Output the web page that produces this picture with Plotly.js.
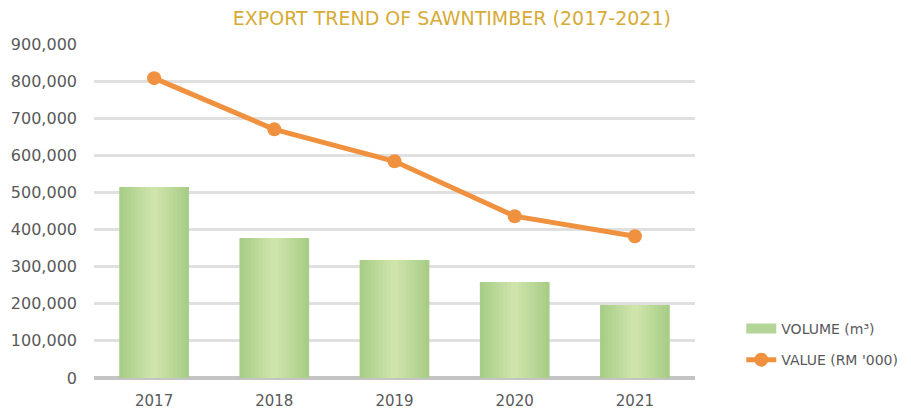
<!DOCTYPE html>
<html>
<head>
<meta charset="utf-8">
<script src="https://cdn.plot.ly/plotly-3.0.1.min.js"></script>
<style>html,body{margin:0;padding:0;background:#fff}#chart{width:911px;height:412px}</style>
</head>
<body>
<div id="chart"></div>
<script>
const years = ['2017', '2018', '2019', '2020', '2021'];
const volume = [515000, 377000, 318000, 259000, 197000];
const value = [808000, 670000, 584000, 436000, 382000];
const yTickVals = [0, 100000, 200000, 300000, 400000, 500000, 600000, 700000, 800000, 900000];
const yTickText = ['0', '100,000', '200,000', '300,000', '400,000', '500,000', '600,000', '700,000', '800,000', '900,000'];
const seriesNames = ['VOLUME (m³)', "VALUE (RM '000)"];

const FONT = 'DejaVu Sans, sans-serif';
const barWidth = 0.58;
const dark = [168, 205, 134];
const light = [206, 228, 170];
const steps = 9;
const traces = [];
for (let k = 0; k < steps; k++) {
  const t = k / (steps - 1);
  const c = dark.map((d, i) => Math.round(d + (light[i] - d) * t));
  const w = barWidth * (1 - k / steps);
  traces.push({
    type: 'bar', x: years, y: volume,
    width: years.map(() => w),
    marker: {color: `rgb(${c[0]},${c[1]},${c[2]})`, line: {width: 0}},
    showlegend: false, hoverinfo: 'skip'
  });
}
// legend proxy for the bars
traces.push({
  type: 'scatter', mode: 'lines', x: [null], y: [null],
  name: seriesNames[0], legendgroup: 'a',
  line: {color: '#b4d598', width: 11}
});
traces.push({
  type: 'scatter', mode: 'lines+markers', x: years, y: value,
  name: seriesNames[1], legendgroup: 'b',
  line: {color: '#f0913f', width: 5},
  marker: {color: '#f0913f', size: 14}
});

const layout = {
  width: 911, height: 412,
  margin: {l: 94, r: 216, t: 44, b: 34, pad: 0, autoexpand: false},
  paper_bgcolor: '#fff', plot_bgcolor: '#fff',
  barmode: 'overlay',
  title: {
    text: 'EXPORT TREND OF SAWNTIMBER (2017-2021)',
    font: {family: FONT, size: 19, color: '#d6ab36'},
    x: 0.496, xanchor: 'center', y: 0.955, yanchor: 'middle'
  },
  xaxis: {
    type: 'category', range: [-0.5, 4.5], automargin: false,
    showgrid: false, zeroline: false, showline: false,
    ticks: '', ticklabelstandoff: 12,
    tickfont: {family: FONT, size: 15, color: '#595959'}
  },
  yaxis: {
    range: [0, 900000], tickvals: yTickVals, ticktext: yTickText, automargin: false,
    showgrid: true, gridcolor: '#e0e0e0', gridwidth: 3,
    zeroline: true, zerolinecolor: '#c4c4c4', zerolinewidth: 4,
    showline: false, ticks: '', ticklabelstandoff: 16,
    tickfont: {family: FONT, size: 16, color: '#595959'}
  },
  legend: {
    x: 1.077, xanchor: 'left', y: 0.195, yanchor: 'top',
    font: {family: FONT, size: 14, color: '#595959'},
    traceorder: 'grouped', tracegroupgap: 10,
    bgcolor: 'rgba(0,0,0,0)'
  },
  showlegend: true
};

Plotly.newPlot('chart', traces, layout, {displayModeBar: false, staticPlot: true});
</script>
</body>
</html>
